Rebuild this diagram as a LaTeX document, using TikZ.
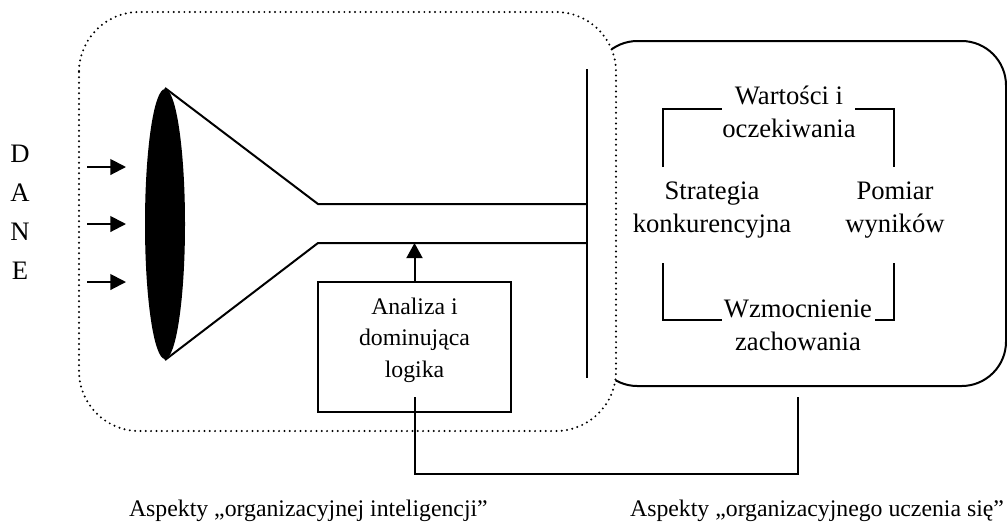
\documentclass[tikz,border=0pt]{standalone}
\usepackage{fontspec}
\setmainfont{Liberation Serif}
\usetikzlibrary{arrows.meta, shapes.geometric, positioning, calc}

\begin{document}
\begin{tikzpicture}[x=0.45pt, y=-0.45pt, line width=0.9pt,
    big/.style={font=\fontsize{12}{15}\selectfont, align=center, inner sep=0pt},
    small/.style={font=\fontsize{10.7}{14.2}\selectfont, align=center, inner sep=0pt},
    arr/.style={-{Triangle[length=7pt, width=7pt]}}]
\useasboundingbox (0,0) rectangle (1007,531);

% ramki: uczenie sie (ciagla) i inteligencja (kropkowana)
\draw[rounded corners=20pt] (593,41) rectangle (1006,386);
\draw[fill=white, line width=1pt, line cap=round, dash pattern=on 0pt off 2.4pt,
      rounded corners=27pt] (79,12) rectangle (616,431);

% dane
\draw (20,154) node[big] (d) {D};
\draw (20,193) node[big] (a) {A};
\draw (20,232) node[big] (n) {N};
\draw (20,271) node[big] (e) {E};

\coordinate (in1) at (87,167);
\coordinate (in2) at (87,224);
\coordinate (in3) at (87,282);
\draw[arr] (in1) -- ++(39,0);
\draw[arr] (in2) -- ++(39,0);
\draw[arr] (in3) -- ++(39,0);

% lejek
\draw (165,224) node[ellipse, fill, inner sep=0pt, minimum width=18pt, minimum height=121.5pt] (lens) {};
\coordinate (nk1) at (318,204);
\coordinate (nk2) at (318,243);
\coordinate (bt) at (587,69);
\coordinate (bb) at (587,378);
\draw (lens.north) -- (nk1) -- (nk1 -| bt);
\draw (lens.south) -- (nk2) -- (nk2 -| bt);
\draw (bt) -- (bb);

% analiza
\draw (414.5,347) node[draw, minimum width=86.9pt, minimum height=58.5pt] (box) {};
\draw (414.5,340) node[small] (anl) {Analiza i\\dominująca\\logika};
\draw[-{Triangle[length=6.8pt, width=7.2pt]}] (box.north) -- (box.north |- nk2);

% petla sprzezenia
\coordinate (lp1) at (414.5,397);
\coordinate (lp2) at (798,397);
\draw (lp1) -- ++(0,77) -| (lp2);

% cykl uczenia
\draw (789,112) node[big] (wart) {Wartości i\\oczekiwania};
\draw (712,210) node[big] (strat) {Strategia\\konkurencyjna};
\draw (895,210) node[big] (pom) {Pomiar\\wyników};
\draw (798,325) node[big] (wzm) {Wzmocnienie\\zachowania};

\draw (663,167) -- (663,109) -- (722,109);
\draw (855,109) -- (894,109) -- (894,167);
\draw (663,263) -- (663,320) -- (722,320);
\draw (875,320) -- (894,320) -- (894,263);

% podpisy
\draw (128,511) node[small, anchor=west] (asp1) {Aspekty „organizacyjnej inteligencji”};
\draw (1005,511) node[small, anchor=east] (asp2) {Aspekty „organizacyjnego uczenia się”};

\end{tikzpicture}
\end{document}
